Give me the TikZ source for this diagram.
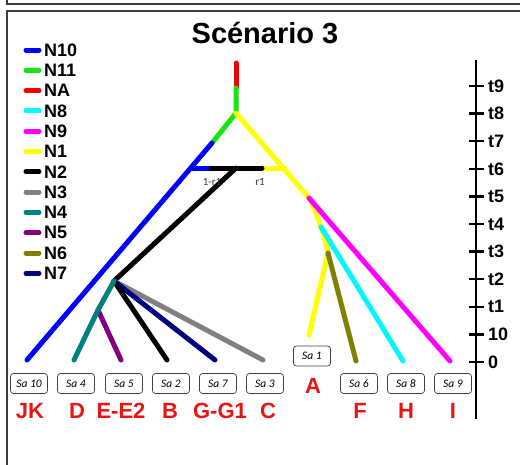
\documentclass[tikz,border=0pt]{standalone}
\usepackage{fontspec}
\setmainfont{Liberation Sans}
\newfontfamily\carl{Carlito}
\definecolor{cblue}{RGB}{0,0,255}
\definecolor{cgreen}{RGB}{20,230,20}
\definecolor{cred}{RGB}{240,0,0}
\definecolor{ccyan}{RGB}{0,250,250}
\definecolor{cmag}{RGB}{255,0,255}
\definecolor{cyel}{RGB}{255,255,0}
\definecolor{cgray}{RGB}{128,128,128}
\definecolor{cteal}{RGB}{0,128,128}
\definecolor{cpurp}{RGB}{128,0,128}
\definecolor{colive}{RGB}{128,128,0}
\definecolor{cnavy}{RGB}{0,0,128}
\definecolor{labred}{RGB}{235,20,20}
\definecolor{framegray}{RGB}{60,60,60}
\begin{document}
\begin{tikzpicture}[x=1pt,y=-1pt,
  br/.style={line width=5pt,line cap=round},
  legline/.style={line width=5pt,line cap=round},
  legtxt/.style={anchor=west,inner sep=0pt,font=\bfseries\fontsize{18}{18}\selectfont},
  sabox/.style={draw=black!75,rounded corners=3pt,line width=0.7pt,minimum width=37pt,minimum height=20pt,inner sep=0pt,font=\carl\itshape\fontsize{11.5}{11.5}\selectfont},
  lab/.style={text=labred,inner sep=0pt,anchor=base,font=\bfseries\fontsize{22}{22}\selectfont},
  tick/.style={line width=2.4pt},
  ticklab/.style={anchor=west,inner sep=0pt,font=\bfseries\fontsize{18}{18}\selectfont},
  rlab/.style={inner sep=0pt,text=black!80,font=\carl\fontsize{11}{11}\selectfont}]
\useasboundingbox (0,0) rectangle (520,464);
% frames
\draw[line width=1.8pt,framegray] (7,0) -- (7,4) -- (521,4);
\draw[line width=1.8pt,framegray] (7,465) -- (7,11) -- (521,11);
% title
\node[anchor=base,inner sep=0pt,font=\bfseries\fontsize{29}{29}\selectfont] (title) at (265,43) {Scénario 3};
% legend
\foreach \c/\t [count=\i from 0] in {cblue/N10,cgreen/N11,cred/NA,ccyan/N8,cmag/N9,cyel/N1,black/N2,cgray/N3,cteal/N4,cpurp/N5,colive/N6,cnavy/N7}{
  \coordinate (la\i) at (26,{50+20.3*\i});
  \coordinate (lb\i) at (39,{50+20.3*\i});
  \draw[legline,\c] (la\i) -- (lb\i);
  \node[legtxt] (lt\i) at (44,{50+20.3*\i}) {\t};
}
% axis
\coordinate (ax0) at (476,60);
\coordinate (ax1) at (476,419);
\draw[line width=1.4pt] (ax0) -- (ax1);
\foreach \t [count=\i from 0] in {t9,t8,t7,t6,t5,t4,t3,t2,t1,10,0}{
  \coordinate (ta\i) at (469,{86+27.6*\i});
  \coordinate (tb\i) at (484,{86+27.6*\i});
  \draw[tick] (ta\i) -- (tb\i);
  \node[ticklab] (tl\i) at (488,{86+27.6*\i}) {\t};
}
% tree coordinates
\coordinate (top) at (236,63);
\coordinate (na) at (236,88);
\coordinate (root) at (236,113);
\coordinate (g1) at (212,143);
\coordinate (hb) at (191,168);
\coordinate (hb2) at (211,168);
\coordinate (hm) at (236,168);
\coordinate (hk) at (262,168);
\coordinate (hy) at (285,168);
\coordinate (n1a) at (309,198);
\coordinate (n1b) at (321,227);
\coordinate (n1c) at (328,253);
\coordinate (n2) at (114,281);
\coordinate (n4) at (98,310);
\coordinate (lJK) at (27,360);
\coordinate (lD) at (74,360);
\coordinate (lE) at (121,360);
\coordinate (lB) at (167,360);
\coordinate (lG) at (215,360);
\coordinate (lC) at (263,360);
\coordinate (lA) at (309,335);
\coordinate (lF) at (356,361);
\coordinate (lH) at (403,361);
\coordinate (lI) at (450,361);
% branches
\draw[br,cred] (top) -- (na);
\draw[br,cgreen] (na) -- (root) -- (g1);
\draw[br,cyel] (root) -- (n1a);
\draw[br,cyel] (hk) -- (hy);
\draw[br,cyel] (n1a) .. controls (316,212) and (324,232) .. (n1c);
\draw[br,cyel] (n1c) -- (lA);
\draw[br,cblue] (g1) -- (lJK);
\draw[br,cblue] (hb) -- (hb2);
\draw[br,black] (hb2) -- (hk);
\draw[br,black] (hm) -- (n2);
\draw[br,cmag] (n1a) -- (lI);
\draw[br,ccyan] (n1b) -- (lH);
\draw[br,colive] (n1c) -- (lF);
\draw[br,cgray] (n2) -- (lC);
\draw[br,cnavy] (n2) -- (lG);
\draw[br,black] (n2) -- (lB);
\draw[br,cpurp] (n4) -- (lE);
\draw[br,cteal] (n2) -- (n4) -- (lD);
% r labels
\node[rlab] (r1a) at (212,182) {1-r1};
\node[rlab] (r1b) at (260,182) {r1};
% sample boxes
\node[sabox] (s10) at (29,383.5) {Sa 10};
\node[sabox] (s4) at (76,383.5) {Sa 4};
\node[sabox] (s5) at (124,383.5) {Sa 5};
\node[sabox] (s2) at (171,383.5) {Sa 2};
\node[sabox] (s7) at (218,383.5) {Sa 7};
\node[sabox] (s3) at (265,383.5) {Sa 3};
\node[sabox] (s1) at (312,356) {Sa 1};
\node[sabox] (s6) at (359,383.5) {Sa 6};
\node[sabox] (s8) at (406,383.5) {Sa 8};
\node[sabox] (s9) at (453,383.5) {Sa 9};
% population labels
\node[lab] (tJK) at (30,418) {JK};
\node[lab] (tD) at (77,418) {D};
\node[lab] (tE) at (121,418) {E-E2};
\node[lab] (tB) at (170,418) {B};
\node[lab] (tG) at (220,418) {G-G1};
\node[lab] (tC) at (268,418) {C};
\node[lab] (tA) at (313,393) {A};
\node[lab] (tF) at (360,418) {F};
\node[lab] (tH) at (406,418) {H};
\node[lab] (tI) at (453,418) {I};
\end{tikzpicture}
\end{document}
